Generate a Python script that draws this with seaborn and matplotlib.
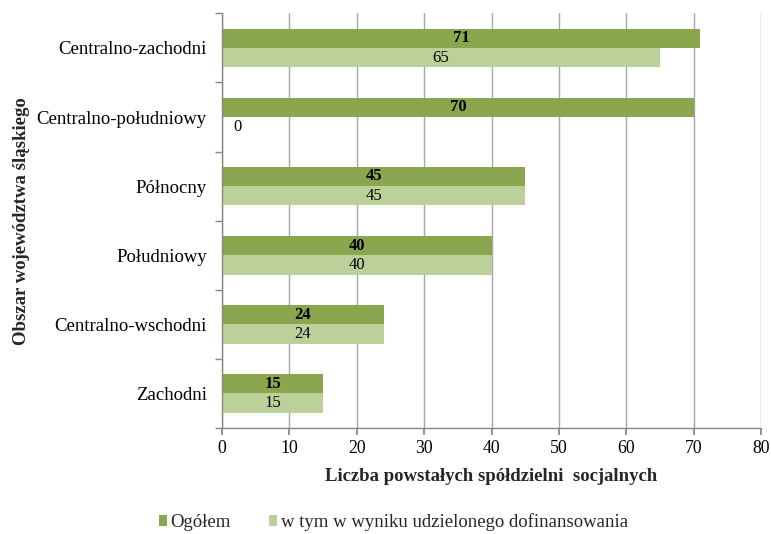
import matplotlib
matplotlib.use("Agg")
import matplotlib.pyplot as plt
import seaborn as sns
import pandas as pd
from matplotlib.ticker import MultipleLocator, FixedLocator
from matplotlib.font_manager import FontProperties

categories = ["Centralno-zachodni", "Centralno-południowy", "Północny",
              "Południowy", "Centralno-wschodni", "Zachodni"]
series_names = ["Ogółem", "w tym w wyniku udzielonego dofinansowania"]
ogolem = [71, 70, 45, 40, 24, 15]
dofinansowanie = [65, 0, 45, 40, 24, 15]
colors = ["#8AA64F", "#BCD19A"]

rows = []
for c, a, b in zip(categories, ogolem, dofinansowanie):
    rows.append({"cat": c, "series": series_names[0], "val": a})
    rows.append({"cat": c, "series": series_names[1], "val": b})
df = pd.DataFrame(rows)

sns.set_theme(style="white")
plt.rcParams["font.family"] = ["Liberation Serif", "DejaVu Serif"]
FS = 13.5

fig = plt.figure(figsize=(7.71, 5.34), dpi=100)
ax = fig.add_axes([0.288, 0.1985, 0.699, 0.7765])

sns.barplot(data=df, y="cat", x="val", hue="series", order=categories,
            hue_order=series_names, palette=colors, orient="h",
            width=0.56, gap=0, ax=ax, saturation=1, legend=True, linewidth=0)

ax.set_xlim(0, 80)
ax.set_ylim(len(categories) - 0.5, -0.5)
ax.xaxis.set_major_locator(MultipleLocator(10))
ax.grid(axis="x", color="#A6A6A6", linewidth=1)
ax.set_axisbelow(True)
for s in ["top", "right"]:
    ax.spines[s].set_visible(False)
for s in ["left", "bottom"]:
    ax.spines[s].set_color("#868686")
    ax.spines[s].set_linewidth(1)

ax.yaxis.set_minor_locator(FixedLocator([i + 0.5 for i in range(-1, len(categories))]))
ax.tick_params(axis="y", which="major", length=0, pad=11, labelsize=FS, colors="black")
ax.tick_params(axis="y", which="minor", length=5, color="#868686", left=True)
ax.tick_params(axis="x", which="major", length=5, color="#868686", bottom=True,
               labelsize=12.8, pad=3.5, colors="black")

ax.set_ylabel("Obszar województwa śląskiego", fontsize=FS, fontweight="bold")
ax.set_xlabel("Liczba powstałych spółdzielni  socjalnych", fontsize=FS, fontweight="bold")
ax.yaxis.set_label_coords(-0.357, 0.5)
ax.xaxis.set_label_coords(0.5, -0.097)

for i, cont in enumerate(ax.containers):
    for patch in cont:
        w = patch.get_width()
        yc = patch.get_y() + patch.get_height() / 2
        kw = dict(ha="center", va="center", fontsize=12, color="black",
                  fontweight="bold" if i == 0 else "normal")
        if w == 0:
            ax.annotate(f"{int(w)}", (0, yc), xytext=(11, 0),
                        textcoords="offset points", **kw)
        else:
            ax.text(w / 2, yc, f"{int(w)}", **kw)

leg = ax.get_legend()
handles = leg.legend_handles
leg.remove()
fig.legend(handles, series_names, loc="center", bbox_to_anchor=(0.51, 0.022),
           ncol=2, frameon=False, handlelength=0.45, handleheight=0.45,
           handletextpad=0.2, columnspacing=2.0,
           prop=FontProperties(family="Liberation Serif", size=FS))

fig.savefig("out.png", dpi=100)
